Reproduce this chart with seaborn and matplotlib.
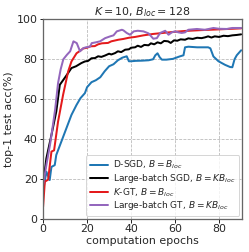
import matplotlib
matplotlib.use("Agg")
import matplotlib.pyplot as plt
import seaborn as sns

# D-SGD, B = B_loc
dsgd_x = [0, 0.8, 1.5, 3, 3.8, 5.3, 6, 8.3, 10.6, 12.9, 15.2, 17, 19, 20, 22, 24, 26, 28, 30, 32,
          34, 36, 38, 39, 40, 42, 45, 48, 50, 51, 52, 53, 54, 56, 59, 62, 63.8, 64.5, 66, 70,
          75, 76, 77.4, 79.7, 82.7, 85, 86, 87, 88, 90]
dsgd_y = [14, 19, 23.6, 19.4, 26, 26.9, 32, 38.7, 45.4, 52.1, 57.1, 60.5, 63, 66, 68.5, 69.5, 71, 74, 76.5, 77.5,
          79.5, 80.8, 81.5, 79, 79, 79.2, 79.3, 79.5, 80, 82, 83, 81, 79.8, 79.8, 80.2, 81.4, 82, 86, 86.3, 86,
          86, 85.5, 81.4, 79, 77.2, 76.1, 76, 80, 82, 84.5]

# Large-batch SGD, B = K B_loc
lbsgd_x = [0, 1.5, 3.8, 6, 7.6, 9.8, 11, 12.9, 15, 17.4, 19, 20.5, 22, 23.6, 25, 26.5, 28.2, 30, 31, 32.7,
           34, 35.5, 37.3, 39, 40, 41.8, 43, 44.5, 46, 47.9, 49, 50.5, 52, 53.5, 55, 56.8, 58, 59.5, 61, 62.5,
           64.5, 66, 68, 70, 72, 73.6, 75, 76.5, 78, 80, 82, 84, 86, 88, 90]
lbsgd_y = [17, 30.3, 42, 53.8, 67.2, 70.6, 72.5, 75.6, 76.5, 78.1, 78.9, 79.2, 80.5, 80.6, 81.5, 81.2, 81.9, 82.8, 82.4, 83.1,
           84, 83.6, 84.8, 85, 85.8, 86, 86.8, 86.2, 87.2, 87, 88, 87.5, 88.5, 88, 89.2, 89, 88.2, 89.5, 89.3, 90,
           89.8, 90.5, 90.2, 90.8, 90.6, 91, 91.5, 90.9, 91.5, 91.2, 91.8, 91.6, 92, 92.2, 92.5]

# K-GT, B = B_loc
kgt_x = [0, 0.8, 2.3, 3.8, 5, 6.8, 9.1, 11.4, 12.9, 15.2, 16.5, 18.2, 20, 21.5, 23.5, 25, 26.7, 29.5, 31, 34.2,
         36.5, 39, 41.8, 45.6, 50, 56.2, 60, 64.5, 71.4, 80, 90]
kgt_y = [6, 18.6, 19.6, 33.7, 34.3, 48.7, 62.2, 73.9, 78.9, 83, 84, 85.4, 85.8, 86.5, 86.6, 87.5, 88, 88.2, 89, 89.8,
         90.2, 90.8, 91.2, 92, 92.7, 93.4, 93.8, 94.2, 94.6, 95, 95.5]

# Large-batch GT, B = K B_loc
lbgt_x = [0, 1.7, 3.2, 4.6, 5.5, 6.8, 8, 9.2, 10.8, 12.3, 13.8, 15.3, 16.8, 18.3, 19.5, 21.4, 22.1, 24, 25.9, 28.2,
          30.5, 32, 33.5, 35.8, 36.5, 38, 39.5, 41.2, 43, 45.6, 47.9, 50.1, 51.7, 53.2, 55.5, 57, 58.5, 60, 61.5, 63,
          64.5, 66, 69.9, 73.6, 77.4, 80, 83.5, 86, 90]
lbgt_y = [17, 28.2, 37.4, 48, 55, 68, 75, 80, 82.2, 84, 89, 88.1, 84, 85.6, 86, 86.4, 88.1, 88.5, 89, 90.6,
          91.5, 92, 94, 94.8, 94.5, 93.2, 92.3, 94, 94.3, 94, 93, 90.3, 90.6, 93.2, 94.3, 92.3, 93.5, 94, 93.5, 93.2,
          93.5, 94.8, 95.2, 94.8, 95.7, 95.3, 95.2, 95.7, 95.7]

labels = [r"D-SGD, $B = B_{loc}$", r"Large-batch SGD, $B = KB_{loc}$",
          r"$K$-GT, $B = B_{loc}$", r"Large-batch GT, $B = KB_{loc}$"]
colors = ["#1f77b4", "black", "#e41a1c", "#9467bd"]

sns.set_style("ticks", {"axes.grid": True, "grid.linestyle": "--", "grid.color": "#b8b8b8",
                        "axes.edgecolor": "0.4"})
plt.rcParams["font.family"] = ["DejaVu Sans"]
plt.rcParams["font.size"] = 11

fig, ax = plt.subplots(figsize=(249 / 72, 252 / 72), dpi=72)
fig.subplots_adjust(left=0.173, right=0.972, top=0.923, bottom=0.132)

series = [(dsgd_x, dsgd_y), (lbsgd_x, lbsgd_y), (kgt_x, kgt_y), (lbgt_x, lbgt_y)]
for (xs, ys), lab, col in zip(series, labels, colors):
    sns.lineplot(x=xs, y=ys, color=col, label=lab, linewidth=2, estimator=None, sort=False, ax=ax)

ax.set_xlim(0, 90.4)
ax.set_ylim(0, 100)
ax.set_xticks([0, 20, 40, 60, 80])
ax.set_yticks([0, 20, 40, 60, 80, 100])
ax.grid(True, linestyle="--", linewidth=0.8, color="#b8b8b8")
for s in ax.spines.values():
    s.set_linewidth(1.3)
ax.tick_params(labelsize=11, length=3.5, width=1, pad=2)
ax.set_xlabel("computation epochs", fontsize=11, labelpad=2)
ax.set_ylabel("top-1 test acc(%)", fontsize=11, labelpad=3)
ax.set_title(r"$K = 10$, $B_{loc} = 128$", fontsize=11, pad=4)
ax.legend(loc="lower right", fontsize=9, labelspacing=0.1, handlelength=2.0,
          handletextpad=0.6, borderpad=0.4, borderaxespad=0.3)

fig.savefig("out.png", dpi=72)
